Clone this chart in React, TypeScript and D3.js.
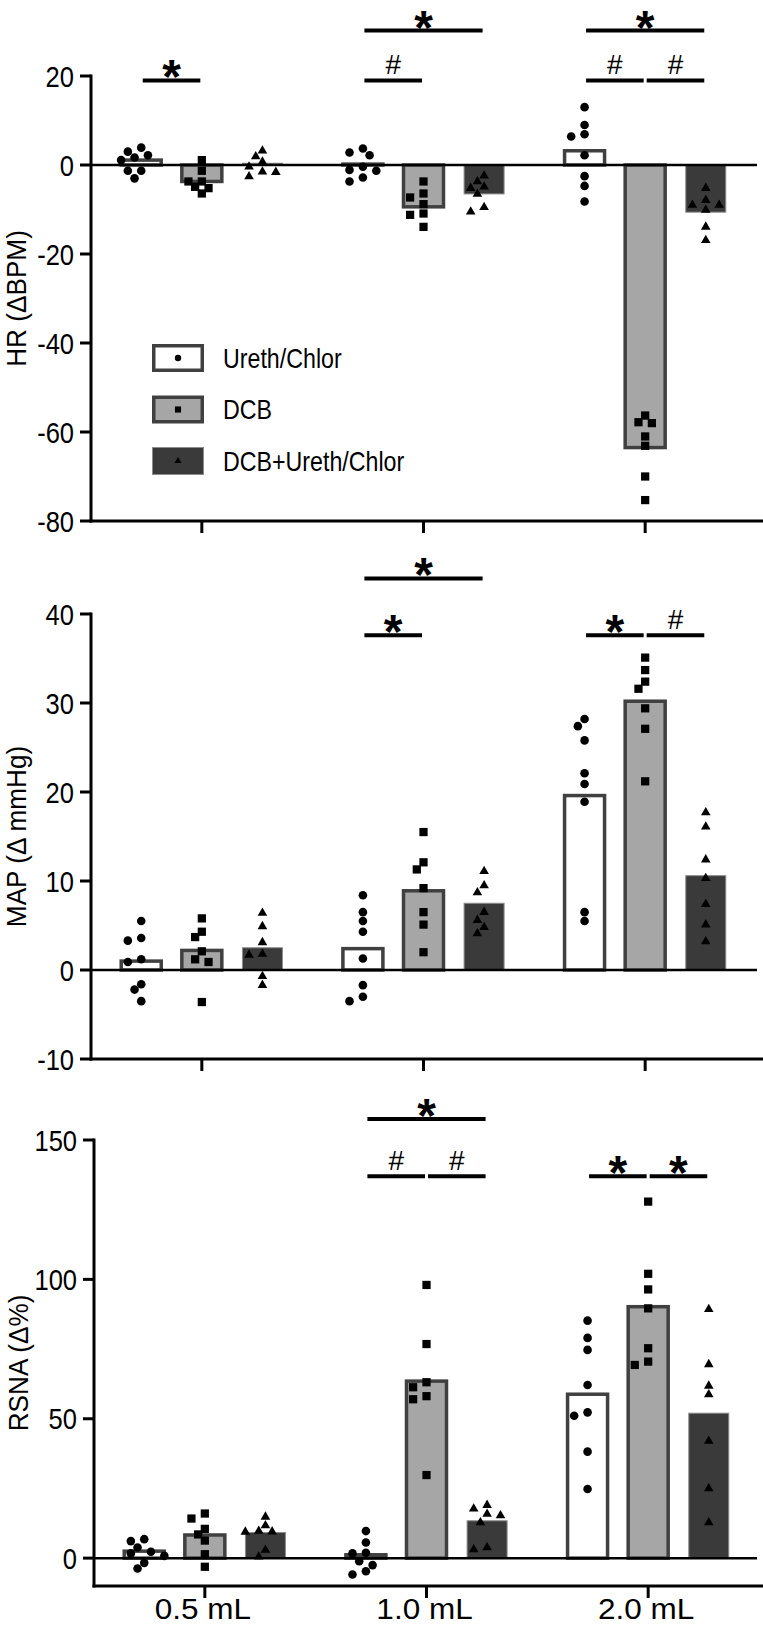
import React from "react";
import * as d3 from "d3";

// ---------- data ----------
const categories = ["0.5 mL", "1.0 mL", "2.0 mL"];
const seriesNames = ["Ureth/Chlor", "DCB", "DCB+Ureth/Chlor"];

// HR (ΔBPM): individual points per category
const hrUreth = [
  [3.0, 1.7, 1.1, 2.2, 3.9, -1.3, -3.0, -1.3],
  [2.8, 2.2, 3.7, -1.3, -3.7, -2.8, -0.4, -1.1],
  [13.0, 9.0, 6.9, 6.4, 2.2, -2.5, -4.7, -8.2],
];
const hrDCB = [
  [1.1, -1.3, -3.7, -4.9, -3.7, -5.2, -6.4],
  [-3.7, -7.3, -6.4, -8.8, -10.9, -11.2, -13.9],
  [-56.3, -57.8, -58.0, -61.0, -63.1, -70.0, -75.3],
];
const hrDCBU = [
  [1.9, 3.2, 0.7, -1.5, -2.6, -1.6, -0.4],
  [-2.4, -3.7, -5.2, -4.9, -6.5, -10.5, -9.5],
  [-5.2, -7.9, -9.0, -9.0, -10.1, -13.9, -16.9],
];
const hrMeans = [
  [1.1, 0.2, 3.2],
  [-3.7, -9.4, -63.5],
  [0.4, -6.5, -10.6],
];

// MAP (Δ mmHg)
const mapUreth = [
  [5.5, 3.6, 3.3, 1.2, 0.9, -1.6, -2.2, -3.5],
  [8.4, 6.5, 5.5, 4.3, 1.3, -1.7, -3.0, -3.5],
  [28.2, 27.4, 25.8, 22.1, 20.9, 18.9, 6.5, 5.5],
];
const mapDCB = [
  [5.8, 4.3, 3.7, 2.1, 1.2, 0.9, -3.6],
  [15.5, 12.1, 11.3, 9.2, 6.5, 5.1, 2.0],
  [35.1, 33.7, 32.4, 31.6, 29.4, 27.1, 21.2],
];
const mapDCBU = [
  [6.4, 4.9, 3.1, 1.8, 1.7, -0.7, -1.7],
  [11.1, 9.5, 8.7, 6.5, 5.6, 4.8, 4.1],
  [17.7, 16.1, 12.4, 10.3, 7.4, 5.1, 3.2],
];
const mapMeans = [
  [1.0, 2.4, 19.6],
  [2.2, 8.9, 30.2],
  [2.5, 7.5, 10.6],
];

// RSNA (Δ%)
const rsnaUreth = [
  [6.1, 6.8, 3.8, 2.3, 1.7, 0.8, -1.7, -3.7],
  [9.7, 5.6, 1.9, 1.7, -1.1, -2.5, -4.7, -5.9],
  [85.2, 79.0, 74.7, 62.1, 52.3, 51.1, 38.2, 24.8],
];
const rsnaDCB = [
  [16.0, 14.2, 10.5, 8.5, 6.3, 1.4, -3.1],
  [98.0, 76.8, 63.1, 61.3, 58.1, 57.0, 29.8],
  [127.9, 102.0, 96.4, 89.6, 75.3, 70.5, 69.3],
];
const rsnaDCBU = [
  [14.8, 11.7, 9.4, 9.5, 9.7, 2.9, 0.5],
  [17.7, 19.0, 15.3, 15.8, 12.8, 3.1, 3.8],
  [89.3, 69.5, 61.8, 58.7, 42.0, 25.0, 12.8],
];
const rsnaMeans = [
  [2.5, 1.2, 58.8],
  [8.3, 63.5, 90.2],
  [9.2, 13.4, 52.0],
];

// significance: [category, fromSeries, toSeries, level (data units), label]
const hrSig: [number, number, number, number, string][] = [
  [0, 0, 1, 19, "*"],
  [1, 0, 1, 19, "#"],
  [1, 0, 2, 30.2, "*"],
  [2, 0, 1, 19, "#"],
  [2, 1, 2, 19, "#"],
  [2, 0, 2, 30.2, "*"],
];
const mapSig: [number, number, number, number, string][] = [
  [1, 0, 1, 37.6, "*"],
  [1, 0, 2, 44.0, "*"],
  [2, 0, 1, 37.6, "*"],
  [2, 1, 2, 37.6, "#"],
];
const rsnaSig: [number, number, number, number, string][] = [
  [1, 0, 1, 137, "#"],
  [1, 1, 2, 137, "#"],
  [1, 0, 2, 157.5, "*"],
  [2, 0, 1, 137, "*"],
  [2, 1, 2, 137, "*"],
];

const hrTicks = [-80, -60, -40, -20, 0, 20];
const mapTicks = [-10, 0, 10, 20, 30, 40];
const rsnaTicks = [0, 50, 100, 150];

// ---------- styles ----------
const W = 763;
const H = 1625;
const FONT = "'Liberation Sans', Arial, Helvetica, sans-serif";
const FILLS = ["#ffffff", "#a6a6a6", "#3a3a3a"];
const STROKES = ["#404040", "#404040", "#8c8c8c"];
const STROKE_W = [3.5, 3.5, 1];
const SYMBOLS = [d3.symbolCircle, d3.symbolSquare, d3.symbolTriangle];
const SYMBOL_SIZE = [58, 68, 40];
const BAR_W = 40;

function swarm(values: number[], y: (v: number) => number, step = 6.7, minDist = 8.4) {
  const items = values.map((v, i) => ({ v, i, y: y(v), dx: 0 }));
  const order = [...items].sort((a, b) => a.y - b.y);
  const placed: typeof items = [];
  for (const it of order) {
    for (let k = 0; k < 30; k++) {
      const m = Math.ceil(k / 2);
      const off = k === 0 ? 0 : k % 2 === 1 ? -m * step : m * step;
      if (placed.every((p) => (p.dx - off) ** 2 + (p.y - it.y) ** 2 >= minDist * minDist)) {
        it.dx = off;
        break;
      }
    }
    placed.push(it);
  }
  return items;
}

function Txt(props: {
  x: number; y: number; size: number; sx?: number; anchor?: string; weight?: string; rotate?: number; children: any;
}) {
  const { x, y, size, sx = 1, anchor = "middle", weight = "normal", rotate = 0, children } = props;
  return (
    <text
      transform={`translate(${x},${y}) rotate(${rotate}) scale(${sx},1)`}
      fontFamily={FONT}
      fontSize={size}
      fontWeight={weight}
      textAnchor={anchor}
      fill="#000"
    >
      {children}
    </text>
  );
}

type PanelCfg = {
  title: string;
  domain: [number, number];
  range: [number, number];
  ticks: number[];
  axisX: number;
  xRange: [number, number];
  titleX: number;
  data: number[][][];
  means: number[][];
  sig: [number, number, number, number, string][];
  showLabels: boolean;
};

const panels: PanelCfg[] = [
  {
    title: "HR (ΔBPM)", domain: [-80, 20], range: [521, 76], ticks: hrTicks, axisX: 91,
    xRange: [91, 756], titleX: 26, data: [hrUreth, hrDCB, hrDCBU], means: hrMeans, sig: hrSig, showLabels: false,
  },
  {
    title: "MAP (Δ mmHg)", domain: [-10, 40], range: [1059, 614], ticks: mapTicks, axisX: 91,
    xRange: [91, 756], titleX: 26, data: [mapUreth, mapDCB, mapDCBU], means: mapMeans, sig: mapSig, showLabels: false,
  },
  {
    title: "RSNA (Δ%)", domain: [-10, 150], range: [1586, 1140], ticks: rsnaTicks, axisX: 94,
    xRange: [94, 759], titleX: 28, data: [rsnaUreth, rsnaDCB, rsnaDCBU], means: rsnaMeans, sig: rsnaSig, showLabels: true,
  },
];

function Panel({ cfg }: { cfg: PanelCfg }) {
  const y = d3.scaleLinear().domain(cfg.domain).range(cfg.range);
  const x = d3.scalePoint<string>().domain(categories).range(cfg.xRange).padding(0.5);
  const xs = d3.scalePoint<string>().domain(seriesNames).range([-60.6, 60.6]);
  const yBottom = y(cfg.domain[0]);
  const yTop = y(cfg.domain[1]);
  const y0 = y(0);
  const cx = (c: number, s: number) => (x(categories[c]) as number) + (xs(seriesNames[s]) as number);

  return (
    <g>
      {/* bars */}
      {cfg.means.map((row, s) =>
        row.map((m, c) => {
          const top = y(Math.max(0, m));
          const bot = y(Math.min(0, m));
          return (
            <rect
              key={`b${s}-${c}`}
              x={cx(c, s) - BAR_W / 2}
              y={top}
              width={BAR_W}
              height={Math.max(0.5, bot - top)}
              fill={FILLS[s]}
              stroke={STROKES[s]}
              strokeWidth={STROKE_W[s]}
            />
          );
        })
      )}
      {/* zero line */}
      <line x1={cfg.axisX} x2={757} y1={y0} y2={y0} stroke="#000" strokeWidth={2.5} />
      {/* points */}
      {cfg.data.map((series, s) =>
        series.map((vals, c) => {
          const pts = swarm(vals, y);
          const path = d3.symbol().type(SYMBOLS[s]).size(SYMBOL_SIZE[s])() as string;
          return pts.map((p) => (
            <path
              key={`p${s}-${c}-${p.i}`}
              d={path}
              transform={`translate(${cx(c, s) + p.dx},${p.y})`}
              fill="#000"
            />
          ));
        })
      )}
      {/* y axis */}
      <line x1={cfg.axisX} x2={cfg.axisX} y1={yTop - 1.5} y2={yBottom + 1.5} stroke="#000" strokeWidth={3} />
      {cfg.ticks.map((t) => (
        <g key={`t${t}`}>
          <line x1={cfg.axisX - 11} x2={cfg.axisX} y1={y(t)} y2={y(t)} stroke="#000" strokeWidth={3} />
          <Txt x={cfg.axisX - 17} y={y(t) + 10.5} size={29} sx={0.88} anchor="end">
            {t}
          </Txt>
        </g>
      ))}
      {/* x axis */}
      <line x1={cfg.axisX - 1.5} x2={W} y1={yBottom} y2={yBottom} stroke="#000" strokeWidth={3} />
      {categories.map((cat) => (
        <g key={cat}>
          <line x1={x(cat)} x2={x(cat)} y1={yBottom} y2={yBottom + 12} stroke="#000" strokeWidth={3} />
          {cfg.showLabels && (
            <Txt x={(x(cat) as number) - 2} y={1618.5} size={30} sx={1.05}>
              {cat}
            </Txt>
          )}
        </g>
      ))}
      {/* axis title */}
      <Txt x={cfg.titleX} y={(yTop + yBottom) / 2} size={27} rotate={-90} sx={0.97}>
        {cfg.title}
      </Txt>
      {/* significance */}
      {cfg.sig.map(([c, a, b, lvl, lab], i) => {
        const x1 = cx(c, a) + 1.5;
        const x2 = cx(c, b) - 1.5;
        const ly = y(lvl);
        const mid = (x1 + x2) / 2;
        return (
          <g key={`s${i}`}>
            <line x1={x1} x2={x2} y1={ly} y2={ly} stroke="#000" strokeWidth={4} />
            {lab === "*" ? (
              <Txt x={mid} y={ly + 13} size={48} weight="bold">
                *
              </Txt>
            ) : (
              <Txt x={mid} y={ly - 6} size={28}>
                #
              </Txt>
            )}
          </g>
        );
      })}
    </g>
  );
}

function Legend() {
  const x0 = 152;
  const y0 = 344;
  const gap = 51.5;
  return (
    <g>
      {seriesNames.map((name, s) => {
        const by = y0 + s * gap;
        const sw = STROKE_W[s];
        const path = d3.symbol().type(SYMBOLS[s]).size(SYMBOL_SIZE[s] * 0.55)() as string;
        return (
          <g key={name}>
            <rect
              x={x0 + sw / 2}
              y={by + sw / 2}
              width={52 - sw}
              height={28 - sw}
              fill={FILLS[s]}
              stroke={STROKES[s]}
              strokeWidth={sw}
            />
            <path d={path} transform={`translate(${x0 + 26},${by + 14})`} fill="#000" />
            <Txt x={223} y={by + 23.5} size={27} sx={0.86} anchor="start">
              {name}
            </Txt>
          </g>
        );
      })}
    </g>
  );
}

export default function App() {
  return (
    <svg
      width={W}
      height={H}
      viewBox={`0 0 ${W} ${H}`}
      style={{ position: "absolute", left: 0, top: 0, background: "#fff" }}
    >
      <rect x={0} y={0} width={W} height={H} fill="#fff" />
      {panels.map((p) => (
        <Panel key={p.title} cfg={p} />
      ))}
      <Legend />
    </svg>
  );
}
